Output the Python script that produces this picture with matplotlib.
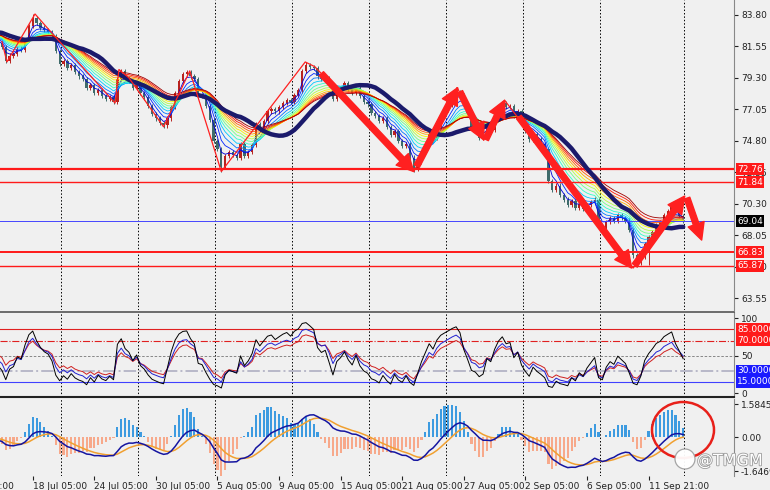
import numpy as np
import pandas as pd
import matplotlib
matplotlib.use("Agg")
import matplotlib.pyplot as plt
from matplotlib.patches import Ellipse
import matplotlib.patheffects as pe

# Cierres por barra; las previas quedan fuera de la vista
prior_closes = [82.2, 82.6, 83.0, 82.8, 83.1, 82.7, 82.9, 82.4, 82.8, 83.2,
                82.9, 82.5, 82.7, 82.3, 82.6, 82.1, 82.4, 81.9, 82.2, 81.8]
closes = [
    81.5, 80.5, 80.9, 81.0, 81.4, 81.3, 82.0, 83.0, 83.6, 83.2,
    82.9, 82.7, 82.6, 82.3, 81.2, 80.3, 80.5, 80.0, 80.2, 79.7,
    79.4, 79.2, 78.6, 78.8, 78.2, 78.4, 78.0, 77.8, 77.9, 77.6,
    79.2, 79.8, 79.3, 79.1, 78.6, 78.9, 78.2, 77.9, 77.3, 76.7,
    76.4, 76.1, 75.9, 76.4, 77.2, 78.2, 79.1, 79.6, 79.7, 79.4,
    79.2, 78.1, 78.0, 77.3, 76.3, 74.8, 74.2, 72.9, 73.7, 74.0,
    73.8, 73.6, 74.6, 73.7, 74.0, 74.5, 76.0, 75.6, 76.2, 76.9,
    77.1, 76.9, 77.2, 77.5, 77.7, 77.6, 78.1, 78.4, 79.8, 80.2,
    80.1, 80.0, 79.4, 79.2, 79.3, 78.8, 77.8, 78.4, 78.6, 78.9,
    78.5, 78.2, 78.6, 78.0, 77.6, 77.4, 76.8, 76.6, 76.2, 76.4,
    75.8, 75.2, 75.5, 74.8, 74.4, 74.6, 73.6, 72.8, 73.3, 73.9,
    74.5, 75.3, 75.0, 75.9, 76.6, 77.0, 77.4, 77.9, 78.3, 78.1,
    77.4, 76.8, 75.8, 75.6, 75.0, 75.1, 75.8, 75.6, 76.3, 77.0,
    77.5, 77.2, 77.3, 76.6, 76.9, 76.1, 75.5, 74.9, 75.3, 74.9,
    74.6, 74.2, 71.9, 71.3, 71.6, 70.9, 70.6, 70.2, 70.5, 70.0,
    70.3, 69.9, 70.2, 70.4, 70.6, 68.8, 68.4, 69.0, 69.3, 69.1,
    69.5, 69.3, 69.1, 68.4, 66.6, 66.1, 66.5, 67.4, 67.9, 68.3,
    68.8, 69.0, 69.5, 69.8, 70.1, 69.7, 69.4, 69.04,
]
# mechas largas
wick_hi = {8: 83.9, 48: 79.85, 79: 80.45, 118: 78.65, 174: 70.3}
wick_lo = {1: 80.4, 29: 77.45, 42: 75.75, 57: 72.55, 107: 72.55, 165: 65.75, 168: 65.9}

red_levels = [72.76, 71.84, 66.83, 65.87]
red_widths = [1.6, 1.0, 1.4, 1.0]
blue_level = 69.04

price_ticks = [83.80, 81.55, 79.30, 77.05, 74.80, 72.55, 70.30, 68.05, 65.80, 63.55]

# ZigZag (barra, precio)
zz_bars = [0, 1.3, 8.6, 13, 29.4, 30.4, 33, 42, 48.8, 57, 78.8, 81.3, 107, 118.3, 125.2, 130.6, 164, 175.5]
zz_prices = [81.9, 80.44, 83.87, 82.5, 77.5, 79.9, 79.3, 75.8, 79.8, 72.6, 80.44, 80.1, 72.6, 78.6, 74.86, 77.7, 65.7, 70.2]

# Flechas dibujadas (inicio -> fin)
arrow_start = [(83.0, 79.6), (107.8, 73.0), (119.0, 78.3), (125.7, 74.9), (134.3, 76.5), (164.4, 65.9), (178.0, 70.7)]
arrow_end = [(107.0, 72.6), (118.4, 78.6), (125.2, 74.86), (130.6, 77.7), (163.6, 65.7), (177.4, 70.85), (181.8, 67.7)]

date_bars = [-11, 8, 24, 40, 56, 72, 88, 104, 120, 136, 152, 168]
date_labels = ["12 Jul 21:00", "18 Jul 05:00", "24 Jul 05:00", "30 Jul 05:00", "5 Aug 05:00",
               "9 Aug 05:00", "15 Aug 05:00", "21 Aug 05:00", "27 Aug 05:00", "2 Sep 05:00",
               "6 Sep 05:00", "11 Sep 21:00"]

ribbon_periods = [3, 5, 7, 9, 11, 13, 15, 17, 19, 21, 23, 25]
slow_period = 20

bg = "#f0f0f0"

c = pd.Series(prior_closes + closes, index=np.arange(-len(prior_closes), len(closes)))
o = c.shift(1)
o.iloc[0] = c.iloc[0]
hi = np.maximum(o, c) + 0.15
lo = np.minimum(o, c) - 0.15
for k, v in wick_hi.items():
    hi[k] = v
for k, v in wick_lo.items():
    lo[k] = v
x = c.index.values


def ema(s, n):
    return s.ewm(span=n, adjust=False).mean()


def rsi(s, n):
    d = s.diff()
    up = d.clip(lower=0).ewm(alpha=1 / n, adjust=False).mean()
    dn = (-d.clip(upper=0)).ewm(alpha=1 / n, adjust=False).mean()
    return 100 - 100 / (1 + up / dn)


fig = plt.figure(figsize=(7.7, 4.9), dpi=100, facecolor=bg)
W, H = 770, 490
axw = 734 / W
ax1 = fig.add_axes([0, 1 - 310 / H, axw, 310 / H], facecolor=bg)
ax2 = fig.add_axes([0, 1 - 397 / H, axw, 85 / H], facecolor=bg)
ax3 = fig.add_axes([0, 1 - 476 / H, axw, 77 / H], facecolor=bg)

xlim = (-0.5, 190.2)
for ax in (ax1, ax2, ax3):
    ax.set_xlim(*xlim)
    ax.yaxis.tick_right()
    ax.tick_params(axis="y", labelsize=6.5, length=3, pad=2, colors="#222222")
    for s in ("left", "top", "bottom"):
        ax.spines[s].set_visible(False)
    ax.spines["right"].set_color("#888888")
    ax.set_xticks([])
    # cuadrícula vertical punteada
    for g in list(15.3 + 20 * np.arange(8)) + [177.2]:
        ax.axvline(g, color="black", ls=(0, (1.5, 2)), lw=0.7, zorder=0.5)

# ---- panel de precios
ax1.set_ylim(62.70, 84.87)
ax1.set_yticks(price_ticks)
ax1.set_yticklabels([f"{t:.2f}" for t in price_ticks])

up = c >= o
col = np.where(up, "#b8221e", "#3f6b6b")
ax1.vlines(x, lo, hi, colors=col, lw=0.7, zorder=2)
ax1.bar(x, np.maximum(np.abs(c - o), 0.04), bottom=np.minimum(o, c), width=0.6, color=col, zorder=2)

cols = plt.cm.jet(np.linspace(0.08, 0.97, len(ribbon_periods)))
for n, cc in zip(ribbon_periods, cols):
    ax1.plot(x, ema(c, n), color=cc, lw=0.6, zorder=3)
ax1.plot(x, c.rolling(slow_period, min_periods=1).mean(), color="#1b1a6b", lw=3.2, zorder=4,
         solid_capstyle="round")

for lv, lw in zip(red_levels, red_widths):
    ax1.axhline(lv, color="#ff1a1a", lw=lw, zorder=3)
ax1.axhline(blue_level, color="#4545ff", lw=0.7, zorder=3)

ax1.plot(zz_bars, zz_prices, color="#ff2020", lw=0.9, zorder=5)
for s0, s1 in zip(arrow_start, arrow_end):
    ax1.annotate("", xy=s1, xytext=s0, zorder=6, annotation_clip=False,
                 arrowprops=dict(arrowstyle="simple,head_width=1.1,head_length=1.1,tail_width=0.38",
                                 color="#ff2020", mutation_scale=11, shrinkA=0, shrinkB=0))

for lv in red_levels:
    ax1.text(1.004, lv, f"{lv:.2f}", transform=ax1.get_yaxis_transform(), fontsize=6.5,
             color="white", va="center", ha="left", zorder=10, clip_on=False,
             bbox=dict(boxstyle="square,pad=0.15", fc="#ff1a1a", ec="none"))
ax1.text(1.004, blue_level, f"{blue_level:.2f}", transform=ax1.get_yaxis_transform(), fontsize=6.5,
         color="white", va="center", ha="left", zorder=10, clip_on=False,
         bbox=dict(boxstyle="square,pad=0.15", fc="black", ec="none"))

# ---- panel osciladores
ax2.set_ylim(-5.3, 108)
ax2.set_yticks([100, 50, 0])
ax2.set_yticklabels(["100", "50", "0"])
ax2.spines["top"].set_visible(True)
ax2.spines["top"].set_color("#555555")
ax2.spines["top"].set_linewidth(1.2)
ax2.spines["bottom"].set_visible(True)
ax2.spines["bottom"].set_color("#222222")
ax2.spines["bottom"].set_linewidth(1.5)
ax2.axhline(85, color="#e02020", lw=0.8)
ax2.axhline(70, color="#e02020", lw=0.8, ls="-.")
ax2.axhline(50, color="#777777", lw=0.6, ls=(0, (3, 2)))
ax2.axhline(30, color="#b8b8c8", lw=1.4, ls="-.")
ax2.axhline(15, color="#4040ff", lw=0.8)
ax2.plot(x, rsi(c, 11), color="#d02020", lw=0.7, zorder=3)
ax2.plot(x, rsi(c, 8), color="#2020d0", lw=0.7, zorder=3)
ax2.plot(x, rsi(c, 5), color="black", lw=0.7, zorder=3)
for v, fc in ((85, "#ff1a1a"), (70, "#ff1a1a"), (30, "#1a1aff"), (15, "#1a1aff")):
    ax2.text(1.004, v, f"{v:.4f}", transform=ax2.get_yaxis_transform(), fontsize=6.5,
             color="white", va="center", ha="left", zorder=10, clip_on=False,
             bbox=dict(boxstyle="square,pad=0.15", fc=fc, ec="none"))

# ---- panel MACD
ax3.set_ylim(-1.884, 1.836)
ax3.set_yticks([1.5845, 0.0, -1.6469])
ax3.set_yticklabels(["1.5845", "0.00", "-1.6469"])
macd = ema(c, 8) - ema(c, 17)
sig = ema(macd, 6)
hist = 3.5 * (macd - sig)
ax3.bar(x, hist, width=0.55, color=np.where(hist >= 0, "#3d9be0", "#f7a98b"), zorder=2)
ax3.plot(x, sig, color="#f0a030", lw=1.1, zorder=3)
ax3.plot(x, macd, color="#1515a0", lw=1.1, zorder=4)

ax3.set_xticks(date_bars[1:])
ax3.set_xticklabels(date_labels[1:], ha="left")
ax3.tick_params(axis="x", labelsize=6.5, length=3, pad=1, colors="#222222")
ax3.text(date_bars[0], -0.075, date_labels[0], transform=ax3.get_xaxis_transform(), fontsize=6.5,
         color="#222222", ha="left", va="top", clip_on=False)

# anotaciones: elipse roja y marca de agua
fig.add_artist(Ellipse((683 / W, 1 - 430 / H), 62 / W, 56 / H, transform=fig.transFigure,
                       fill=False, ec="#e8201a", lw=1.8, zorder=20))
fig.add_artist(Ellipse((685 / W, 1 - 459 / H), 20 / W, 20 / H, transform=fig.transFigure,
                       fc="white", ec="#a0a0a0", lw=0.9, alpha=0.95, zorder=20))
fig.text(697 / W, 1 - 461 / H, "@TMGM", fontsize=11.5, color="white", va="center", ha="left",
         zorder=21, path_effects=[pe.withStroke(linewidth=1.2, foreground="#9a9a9a")])

fig.savefig("out.png", dpi=100, facecolor=bg)
